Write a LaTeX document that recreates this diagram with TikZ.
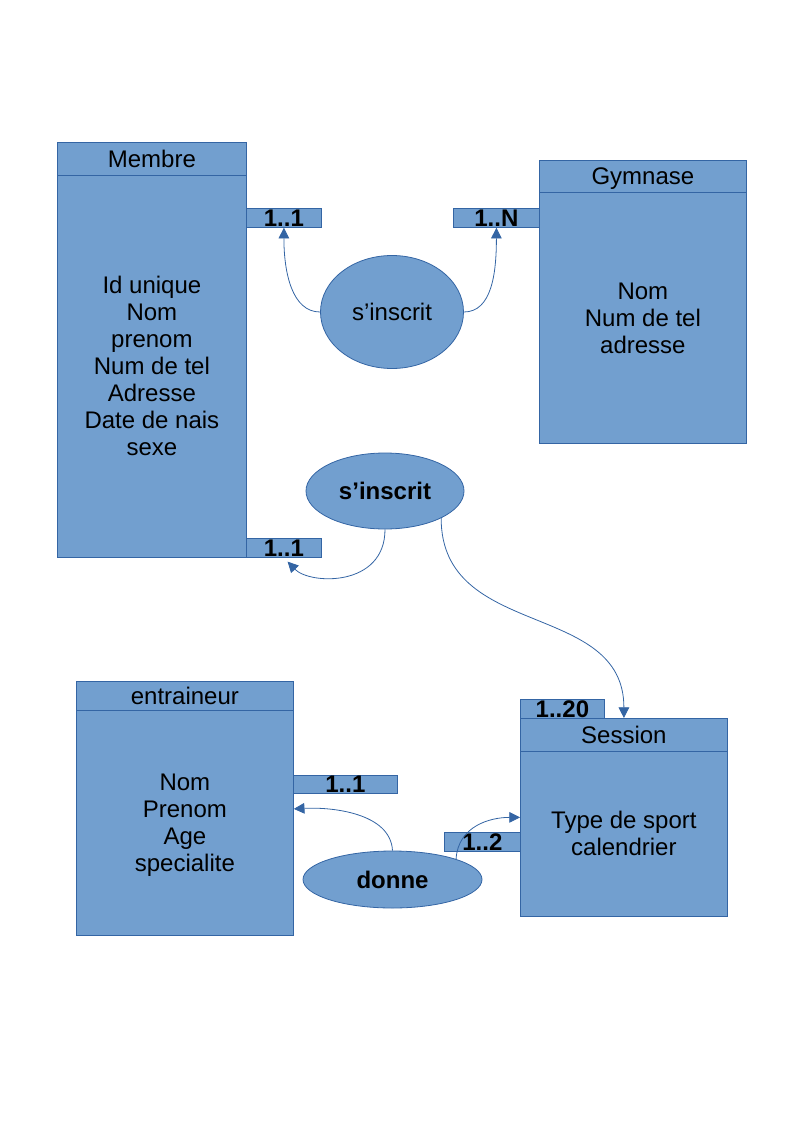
\documentclass[tikz,border=0pt]{standalone}
\usepackage{fontspec}
\setmainfont{Liberation Sans}
\usetikzlibrary{arrows.meta}
\usetikzlibrary{shapes.geometric}

\definecolor{boxfill}{HTML}{729FCF}
\definecolor{boxline}{HTML}{3465A4}

\tikzset{
    entity/.style={draw=boxline, fill=boxfill, line width=0.6pt, inner sep=0pt, anchor=north west, align=center, font=\fontsize{18}{20.25}\selectfont},
    card/.style={draw=boxline, fill=boxfill, line width=0.6pt, inner sep=0pt, anchor=north west, font=\fontsize{18}{20}\selectfont\bfseries},
    assoc/.style={ellipse, draw=boxline, fill=boxfill, line width=0.6pt, inner sep=0pt, font=\fontsize{18}{20}\selectfont},
    link/.style={draw=boxline, line width=0.6pt, -{Triangle[length=8pt,width=8pt]}}
}

\begin{document}
\begin{tikzpicture}[x=0.75pt, y=-0.75pt]
                \useasboundingbox (0,0) rectangle (794,1123);
                % entities
                \node[entity, minimum width=141.75pt, minimum height=24.75pt] (membre) at (57,142) {Membre};
                \node[entity, minimum width=141.75pt, minimum height=286.5pt] (membrebody) at (57,175) {Id unique\\Nom\\prenom\\Num de tel\\Adresse\\Date de nais\\sexe};
                \node[entity, minimum width=155.25pt, minimum height=24pt, text depth=0pt] (gymnase) at (539,160) {Gymnase};
                \node[entity, minimum width=155.25pt, minimum height=188.25pt] (gymnasebody) at (539,192) {Nom\\Num de tel\\adresse};
                \node[entity, minimum width=162.75pt, minimum height=21.75pt] (entraineur) at (76,681) {entraineur};
                \node[entity, minimum width=162.75pt, minimum height=168.75pt, text depth=0pt] (entraineurbody) at (76,710) {Nom\\Prenom\\Age\\specialite};
                \node[entity, minimum width=155.25pt, minimum height=24.75pt] (session) at (520,718) {Session};
                \node[entity, minimum width=155.25pt, minimum height=123.75pt] (sessionbody) at (520,751) {Type de sport\\calendrier};
                % cardinalities
                \node[card, minimum width=56.25pt, minimum height=14.25pt] (cardA) at (246,208) {1..1};
                \node[card, minimum width=64.5pt, minimum height=14.25pt] (cardB) at (453,208) {1..N};
                \node[card, minimum width=56.25pt, minimum height=14.25pt] (cardC) at (246,538) {1..1};
                \node[card, minimum width=63pt, minimum height=14.25pt] (cardD) at (520,699) {1..20};
                \node[card, minimum width=78pt, minimum height=13.5pt] (cardE) at (293,775) {1..1};
                \node[card, minimum width=57pt, minimum height=14.25pt] (cardF) at (444,832) {1..2};
                % associations
                \node[assoc, minimum width=107.25pt, minimum height=84.75pt] (inscrit) at (392,312) {s’inscrit};
                \node[assoc, minimum width=118.5pt, minimum height=57pt, font=\fontsize{18}{20}\selectfont\bfseries] (inscritB) at (385,491) {s’inscrit};
                \node[assoc, minimum width=134.25pt, minimum height=42.75pt, font=\fontsize{18}{20}\selectfont\bfseries] (donne) at (392.5,879.5) {donne};
                % links
                \draw[link] (inscrit.west) .. controls +(-28,0) and +(0,45) .. (cardA.south);
                \draw[link] (inscrit.east) .. controls +(28,0) and +(0,45) .. (cardB.south);
                \draw[link, shorten >=4pt] (inscritB.south) .. controls +(0,58) and +(26,27) .. (cardC.south);
                \draw[link] (inscritB.south east) .. controls +(0,122) and +(0,-118) .. (session.north);
                \draw[link] (donne.north) .. controls +(-2,-38) and +(37,-2) .. ([yshift=10.5pt]entraineurbody.east);
                \draw[link] (donne.north east) .. controls +(2,-33) and +(-30,0) .. ([yshift=12.4pt]sessionbody.west);
            \end{tikzpicture}
\end{document}
